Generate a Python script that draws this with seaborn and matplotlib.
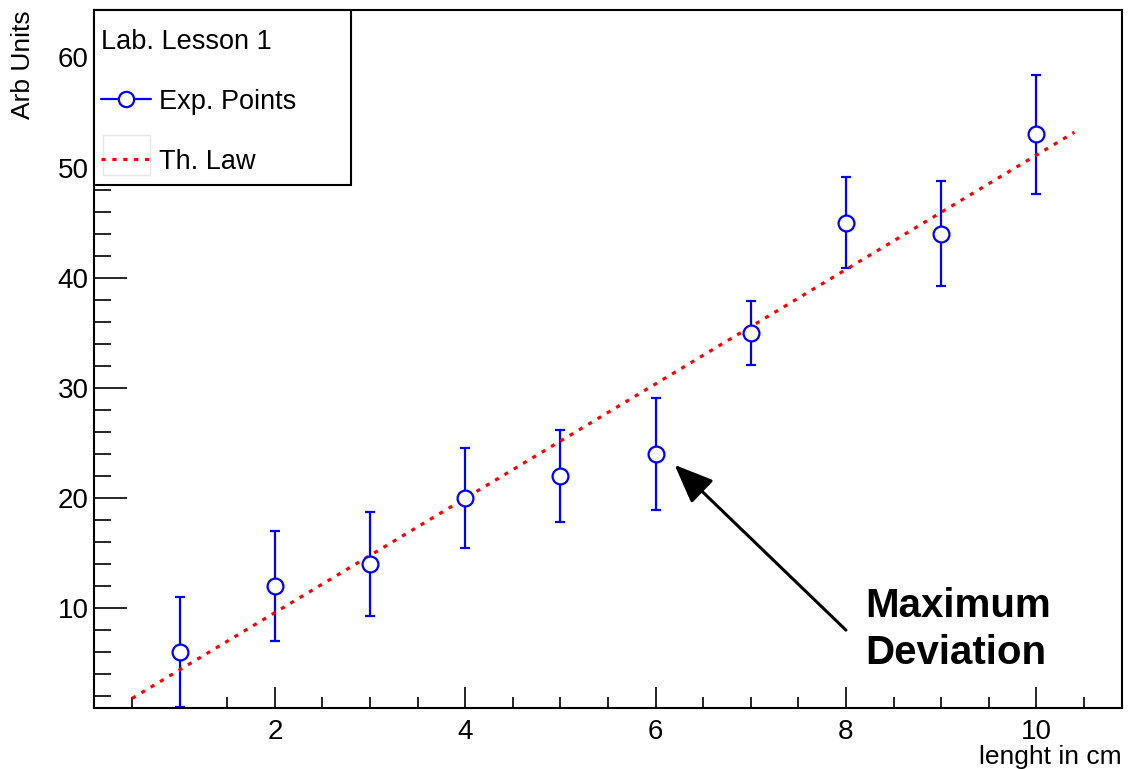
import matplotlib
matplotlib.use("Agg")
import matplotlib.pyplot as plt
from matplotlib.lines import Line2D
from matplotlib.patches import Rectangle
from matplotlib.ticker import MultipleLocator
import seaborn as sns

# measured points
x_vals = [1, 2, 3, 4, 5, 6, 7, 8, 9, 10]
y_vals = [6, 12, 14, 20, 22, 24, 35, 45, 44, 53]
y_errs = [5, 5, 4.7, 4.5, 4.2, 5.1, 2.9, 4.1, 4.8, 5.43]

# theoretical law (end points of the drawn line)
th_x = [0.5, 10.4]
th_y = [1.8, 53.2]

# annotation
arrow_from = (8, 8)
arrow_to = (6.2, 23)
note_pos = (8.2, 11.9)
note_text = "Maximum\nDeviation"

sns.set_theme(style="ticks")
plt.rcParams["font.family"] = ["Liberation Sans", "DejaVu Sans"]
plt.rcParams["text.color"] = "black"
plt.rcParams["axes.labelcolor"] = "black"

fig = plt.figure(figsize=(11.28, 7.69), dpi=100)
ax = fig.add_axes([94 / 1128, 61 / 769, 1028 / 1128, 698 / 769])

ax.errorbar(x_vals, y_vals, yerr=y_errs, fmt="none", ecolor="blue",
            elinewidth=1.6, capsize=3.5, capthick=1.6, zorder=2)
sns.lineplot(x=th_x, y=th_y, ax=ax, color="red", lw=2.3,
             linestyle=(0, (1.3, 2.1)), zorder=3)
sns.scatterplot(x=x_vals, y=y_vals, ax=ax, marker="o", s=130,
                facecolor="white", edgecolor="blue", linewidth=1.6, zorder=4)

ax.annotate("", xy=arrow_to, xytext=arrow_from,
            arrowprops=dict(arrowstyle="-|>,head_length=0.8,head_width=0.33",
                            mutation_scale=30, lw=2.2, color="black",
                            shrinkA=0, shrinkB=0))
ax.text(note_pos[0], note_pos[1], note_text, fontsize=29, fontweight="bold",
        ha="left", va="top", linespacing=1.3, color="black")

ax.set_xlim(0.1, 10.9)
ax.set_ylim(0.93, 64.3)
ax.xaxis.set_major_locator(MultipleLocator(2))
ax.xaxis.set_minor_locator(MultipleLocator(0.5))
ax.yaxis.set_major_locator(MultipleLocator(10))
ax.yaxis.set_minor_locator(MultipleLocator(2))
ax.set_yticks([10, 20, 30, 40, 50, 60])

ax.tick_params(axis="both", which="both", direction="in", colors="black",
               labelsize=20, width=1.2)
ax.tick_params(axis="y", which="major", length=24, pad=4)
ax.tick_params(axis="y", which="minor", length=12)
ax.tick_params(axis="x", which="major", length=15, pad=8)
ax.tick_params(axis="x", which="minor", length=8)
for sp in ax.spines.values():
    sp.set_color("black")
    sp.set_linewidth(1.5)

ax.set_xlabel("lenght in cm", fontsize=19, loc="right")
ax.set_ylabel("Arb Units", fontsize=19, loc="top")
ax.xaxis.set_label_coords(1.0, -0.053)
ax.yaxis.set_label_coords(-0.057, 1.0)

# legend frame drawn separately so its size matches the reference box
ax.add_patch(Rectangle((0, 1 - 175 / 698), 257 / 1028, 175 / 698,
                       transform=ax.transAxes, facecolor="white",
                       edgecolor="black", lw=1.5, zorder=5, clip_on=False))
ax.add_patch(Rectangle((9 / 1028, 1 - 165 / 698), 47 / 1028, 40 / 698,
                       transform=ax.transAxes, facecolor="none",
                       edgecolor="#e6e6e6", lw=1, zorder=5.5))

handles = [
    Line2D([], [], color="blue", lw=1.6, marker="o", markersize=11,
           markerfacecolor="white", markeredgecolor="blue", markeredgewidth=1.6),
    Line2D([], [], color="red", lw=2.3, linestyle=(0, (1.3, 2.1))),
]
leg = ax.legend(handles, ["Exp. Points", "Th. Law"], title="Lab. Lesson 1",
                loc="upper left", bbox_to_anchor=(7 / 1028, 1 - 19 / 698),
                borderaxespad=0, borderpad=0, fontsize=19.5, title_fontsize=19.5,
                alignment="left", frameon=False, handlelength=1.85,
                handletextpad=0.3, labelspacing=1.25)
leg.set_zorder(6)

fig.savefig("out.png", dpi=100)
